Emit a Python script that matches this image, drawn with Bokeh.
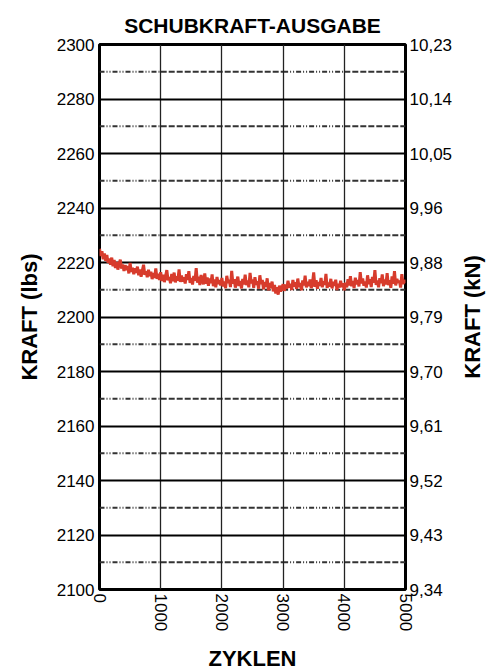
import math
from bokeh.plotting import figure
from bokeh.layouts import row
from bokeh.models import Range1d, LinearAxis, FixedTicker
from bokeh.core.properties import value
from bokeh.embed import file_html
from bokeh.resources import INLINE

# ---------------- data ----------------
cycle_step = 20
force_lbs = [
    2225.0, 2222.4, 2224.1, 2221.2, 2223.3, 2220.6, 2222.8, 2219.9, 2221.5, 2219.2,
    2221.8, 2218.6, 2220.9, 2218.0, 2220.2, 2217.4, 2219.6, 2221.0, 2217.8, 2219.3,
    2216.9, 2219.0, 2217.2, 2218.7, 2216.0, 2219.8, 2216.6, 2218.1, 2215.7, 2217.9,
    2216.2, 2218.5, 2215.3, 2217.4, 2214.8, 2217.0, 2219.2, 2215.5, 2216.8, 2214.6,
    2217.3, 2215.0, 2216.6, 2213.9, 2216.1, 2214.4, 2217.8, 2214.0, 2215.9, 2213.6,
    2216.4, 2213.2, 2215.5, 2212.8, 2215.0, 2217.2, 2213.5, 2214.7, 2212.4, 2215.8,
    2213.1, 2216.3, 2212.7, 2214.9, 2213.4, 2217.5, 2212.9, 2215.2, 2213.0, 2214.6,
    2212.3, 2215.7, 2213.6, 2216.8, 2212.5, 2214.3, 2211.9, 2215.1, 2213.3, 2217.9,
    2212.6, 2214.8, 2211.7, 2215.4, 2213.1, 2212.0, 2216.0, 2212.2, 2214.5, 2211.5,
    2214.1, 2212.4, 2215.6, 2211.3, 2213.8, 2210.9, 2214.7, 2212.1, 2213.5, 2211.6,
    2214.3, 2211.2, 2213.0, 2210.6, 2215.1, 2212.5, 2213.7, 2211.0, 2216.9, 2212.3,
    2213.9, 2210.8, 2212.9, 2214.8, 2211.4, 2213.2, 2210.5, 2214.0, 2212.0, 2215.5,
    2211.7, 2213.4, 2210.9, 2216.2, 2212.4, 2213.8, 2210.7, 2214.6, 2211.8, 2213.1,
    2210.4, 2215.3, 2212.1, 2213.6, 2210.2, 2212.8, 2211.1, 2214.2, 2209.8, 2212.5,
    2210.6, 2213.0, 2209.4, 2211.8, 2208.6, 2210.9, 2208.2, 2211.5, 2209.3, 2210.7,
    2212.0, 2209.6, 2211.9, 2210.4, 2213.3, 2210.8, 2212.2, 2209.9, 2213.6, 2211.2,
    2212.7, 2210.3, 2214.1, 2211.0, 2212.5, 2209.8, 2213.4, 2211.6, 2215.2, 2210.9,
    2212.9, 2211.3, 2213.8, 2210.6, 2212.3, 2216.4, 2211.1, 2213.5, 2210.4, 2212.8,
    2211.5, 2214.3, 2210.9, 2213.1, 2211.8, 2215.8, 2210.7, 2212.6, 2211.2, 2214.0,
    2210.5, 2212.9, 2211.4, 2213.7, 2209.9, 2212.2, 2210.8, 2213.3, 2211.0, 2212.4,
    2209.8, 2212.6, 2210.9, 2213.9, 2211.6, 2215.0, 2211.3, 2213.2, 2210.6, 2214.4,
    2212.0, 2213.6, 2211.2, 2216.5, 2212.3, 2214.1, 2211.5, 2213.0, 2210.8, 2215.3,
    2212.1, 2213.9, 2211.0, 2214.7, 2212.6, 2217.2, 2211.8, 2213.4, 2210.9, 2214.2,
    2212.4, 2215.6, 2211.3, 2213.8, 2212.0, 2216.1, 2211.7, 2213.5, 2210.7, 2214.9,
    2212.2, 2216.8, 2211.6, 2214.0, 2212.5, 2213.3, 2210.8, 2215.7, 2212.1, 2213.6,
    2212.4,
]
cycles = [i * cycle_step for i in range(len(force_lbs))]

x_ticks = [0, 1000, 2000, 3000, 4000, 5000]
y_ticks_lbs = [2100, 2120, 2140, 2160, 2180, 2200, 2220, 2240, 2260, 2280, 2300]
y_labels_kn = ["9,34", "9,43", "9,52", "9,61", "9,70", "9,79", "9,88",
               "9,96", "10,05", "10,14", "10,23"]

TITLE = "SCHUBKRAFT-AUSGABE"
X_LABEL = "ZYKLEN"
Y_LABEL_LEFT = "KRAFT (lbs)"
Y_LABEL_RIGHT = "KRAFT (kN)"

# ---------------- styling ----------------
FONT = "Liberation Sans"
TICK_SIZE = "17px"
TITLE_SIZE = "21px"
LABEL_SIZE = "22px"
RED = "#d73b2c"

p = figure(
    frame_width=306, frame_height=545,
    x_range=Range1d(x_ticks[0], x_ticks[-1]),
    y_range=Range1d(y_ticks_lbs[0], y_ticks_lbs[-1]),
    output_backend="svg", toolbar_location=None,
    min_border_left=99, min_border_right=52,
    min_border_top=44, min_border_bottom=83,
    title=TITLE,
)
p.background_fill_color = "white"
p.border_fill_color = "white"
p.outline_line_color = "black"
p.outline_line_width = 3

p.title.align = "center"
p.title.text_font = FONT
p.title.text_font_size = TITLE_SIZE
p.title.text_font_style = "bold"
p.title.text_color = "black"
p.title.standoff = 16

def style_axis(ax):
    ax.axis_line_color = None
    ax.major_tick_line_color = None
    ax.minor_tick_line_color = None
    ax.major_tick_in = 0
    ax.major_tick_out = 0
    ax.minor_tick_in = 0
    ax.minor_tick_out = 0
    ax.major_label_text_font = FONT
    ax.major_label_text_font_size = TICK_SIZE
    ax.major_label_text_color = "black"
    ax.axis_label_text_font = FONT
    ax.axis_label_text_font_size = LABEL_SIZE
    ax.axis_label_text_font_style = "bold"
    ax.axis_label_text_color = "black"

# x axis
xa = p.xaxis[0]
xa.ticker = FixedTicker(ticks=x_ticks)
xa.axis_label = X_LABEL
xa.major_label_orientation = "vertical"
style_axis(xa)
xa.major_label_standoff = 4
xa.axis_label_standoff = 12

# left y axis
ya = p.yaxis[0]
ya.ticker = FixedTicker(ticks=y_ticks_lbs)
ya.axis_label = Y_LABEL_LEFT
style_axis(ya)
ya.major_label_standoff = 5
ya.axis_label_standoff = 12

# right y axis (kN)
yr = LinearAxis(ticker=FixedTicker(ticks=y_ticks_lbs))
yr.major_label_overrides = {t: lab for t, lab in zip(y_ticks_lbs, y_labels_kn)}
style_axis(yr)
yr.major_label_standoff = 4
p.add_layout(yr, "right")

# grids
p.xgrid.grid_line_color = "#222222"
p.xgrid.grid_line_width = 1.3
p.xgrid.ticker = FixedTicker(ticks=x_ticks)
p.ygrid.grid_line_color = "black"
p.ygrid.grid_line_width = 1.8
p.ygrid.ticker = FixedTicker(ticks=y_ticks_lbs)

# minor horizontal lines (mid between major ticks), alternating dash styles
minor_y = [(a + b) / 2 for a, b in zip(y_ticks_lbs[:-1], y_ticks_lbs[1:])]
seg_styles = [
    (x_ticks[0], x_ticks[1], "5 2 1 2 1 2"),
    (x_ticks[1], x_ticks[3], "6 2"),
    (x_ticks[3], x_ticks[4], "5 2 1 2 1 2"),
    (x_ticks[4], x_ticks[5], "6 2"),
]
for x0, x1, dash in seg_styles:
    r = p.segment(x0=[x0] * len(minor_y), x1=[x1] * len(minor_y),
                  y0=minor_y, y1=minor_y,
                  line_color="#333333", line_width=1.8, line_dash=dash)
    r.level = "underlay"

# data line
p.line(cycles, force_lbs, line_color=RED, line_width=3)

# narrow side panel carrying the right axis title (reads bottom-to-top)
p2 = figure(
    frame_width=30, frame_height=545,
    x_range=Range1d(0, 1), y_range=p.y_range,
    output_backend="svg", toolbar_location=None,
    x_axis_location=None, y_axis_location=None,
    min_border_left=0, min_border_right=0,
    min_border_top=44, min_border_bottom=83,
)
p2.grid.visible = False
p2.outline_line_color = None
p2.background_fill_color = "white"
p2.border_fill_color = "white"
p2.text(x=[0.5], y=[(y_ticks_lbs[0] + y_ticks_lbs[-1]) / 2], text=[Y_LABEL_RIGHT],
        angle=math.pi / 2, text_align="center", text_baseline="middle",
        text_font=value(FONT), text_font_size=value(LABEL_SIZE),
        text_font_style="bold", text_color="black")

layout = row(p, p2)
open("out.html", "w").write(file_html(layout, INLINE))
